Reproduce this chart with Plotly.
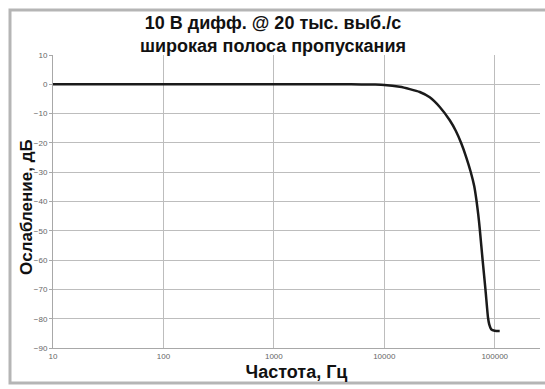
import plotly.graph_objects as go

# Data
freq_hz = [10, 100, 1000, 5000, 8000, 10000, 13810, 17010, 20960, 25800, 31790,
           39160, 44380, 49760, 55230, 60650, 65250, 68310, 70900, 73150,
           77890, 82550, 86980, 89180, 92970, 100000, 110960]
atten_db = [0, 0, 0, 0, -0.1, -0.2, -0.85, -1.64, -2.63, -4.44, -7.75,
            -12.29, -15.87, -20.14, -24.91, -29.93, -34.81, -39.59, -44.37, -49.25,
            -60.41, -70.31, -79.69, -81.91, -83.62, -84.13, -84.2]

x_ticks = [10, 100, 1000, 10000, 100000]
x_tick_labels = ["10", "100", "1000", "10000", "100000"]
y_ticks = [10, 0, -10, -20, -30, -40, -50, -60, -70, -80, -90]

title_text = "10 В дифф. @ 20 тыс. выб./с<br>широкая полоса пропускания"
x_title = "Частота, Гц"
y_title = "Ослабление, дБ"

W, H = 545, 389
ml, mr, mt, mb = 53, 5, 55, 41
pw, ph = W - ml - mr, H - mt - mb

def px_to_paper_x(px):
    return (px - ml) / pw

def py_to_paper_y(py):
    return (H - mb - py) / ph

FONT = "Liberation Sans, Arial, sans-serif"

fig = go.Figure()
fig.add_trace(go.Scatter(
    x=freq_hz, y=atten_db, mode="lines",
    line=dict(color="#1a1a1a", width=2.5, shape="spline", smoothing=0.6),
    hoverinfo="skip", showlegend=False,
))

grid_col = "#bdbdbd"
fig.update_layout(
    width=W, height=H,
    margin=dict(l=ml, r=mr, t=mt, b=mb, autoexpand=False),
    paper_bgcolor="white", plot_bgcolor="white",
    font=dict(family=FONT, color="#111"),
    xaxis=dict(type="log", range=[1, 5.41], tickvals=x_ticks, ticktext=x_tick_labels,
               showgrid=True, gridcolor=grid_col, gridwidth=1,
               showline=True, linecolor="#a8a8a8", linewidth=1,
               ticks="", tickfont=dict(size=8, color="#666"),
               zeroline=False, automargin=False,
               title=dict(text=x_title, standoff=5,
                          font=dict(size=18, color="#111", weight="bold"))),
    yaxis=dict(range=[-90, 10], tickvals=y_ticks,
               showgrid=True, gridcolor=grid_col, gridwidth=1,
               showline=True, linecolor="#a8a8a8", linewidth=1,
               ticks="outside", ticklen=3, tickcolor="#a8a8a8",
               tickfont=dict(size=8, color="#666"),
               zeroline=False, automargin=False),
)

# y-axis title
fig.add_annotation(text=y_title, xref="paper", yref="paper",
                   x=px_to_paper_x(27), y=py_to_paper_y(207),
                   xanchor="center", yanchor="middle", textangle=-90, showarrow=False,
                   font=dict(size=17, family=FONT, color="#111", weight="bold"))

# chart title
fig.add_annotation(text=title_text, xref="paper", yref="paper",
                   x=px_to_paper_x(273), y=py_to_paper_y(11),
                   xanchor="center", yanchor="top", showarrow=False,
                   font=dict(size=18, family=FONT, color="#111", weight="bold"))

# outer frame
fig.add_shape(type="rect", xref="paper", yref="paper",
              x0=px_to_paper_x(10), x1=px_to_paper_x(552),
              y0=py_to_paper_y(383), y1=py_to_paper_y(10),
              line=dict(color="#b5b5b5", width=3), fillcolor="rgba(0,0,0,0)", layer="below")

fig.write_html("out.html", config={"displayModeBar": False},
               post_script="document.body.style.margin='0';document.body.style.padding='0';")
